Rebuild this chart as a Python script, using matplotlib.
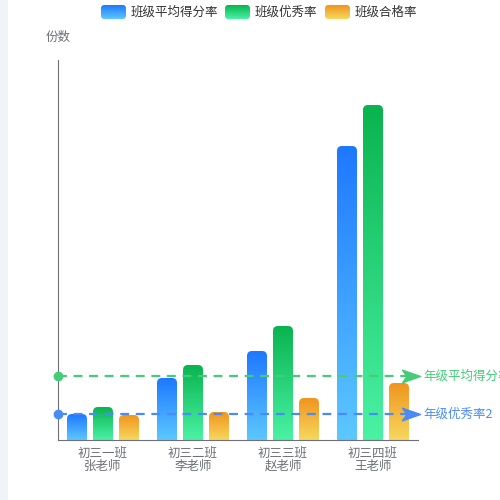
import numpy as np
import matplotlib.pyplot as plt
from matplotlib.patches import FancyBboxPatch, Rectangle
from matplotlib.path import Path
import matplotlib.colors as mcolors

plt.rcParams['font.family'] = ['Noto Sans CJK SC', 'DejaVu Sans']

# data
classes = ['初三一班\n张老师', '初三二班\n李老师', '初三三班\n赵老师', '初三四班\n王老师']
series_names = ['班级平均得分率', '班级优秀率', '班级合格率']
avg_score = [26, 62, 89, 294]
excellent = [33, 75, 114, 335]
passing = [25, 28, 42, 57]
mark_names = ['年级平均得分率', '年级优秀率2']
mark_values = [64, 26]

# gradient colours (top, bottom)
grads = [('#1e78ff', '#5cc8ff'), ('#09b44f', '#4af2a4'), ('#f0951e', '#f7d85e')]
mark_colors = ['#44cc77', '#4a8cf7']
axis_color = '#6e7079'


def grad_image(ax, x0, x1, y0, y1, top, bottom, clip, zorder=2):
    cmap = mcolors.LinearSegmentedColormap.from_list('g', [bottom, top])
    g = np.linspace(0, 1, 256).reshape(-1, 1)
    im = ax.imshow(g, extent=(x0, x1, y0, y1), origin='lower', cmap=cmap,
                   aspect='auto', zorder=zorder, interpolation='bicubic')
    im.set_clip_path(clip)
    return im


fig = plt.figure(figsize=(5, 5), dpi=100)
fig.patches.append(Rectangle((0, 0), 8 / 500, 1, transform=fig.transFigure,
                             facecolor='#f2f3f8', edgecolor='none'))

ax = fig.add_axes([58 / 500, 60 / 500, 360 / 500, 380 / 500])
ax.set_xlim(-0.5, 3.5)
ax.set_ylim(0, 380)

x = np.arange(len(classes))
w = 20 / 90
off = 26 / 90
r = 5 / 90
aspect = 90.0
for i, vals in enumerate([avg_score, excellent, passing]):
    bars = ax.bar(x + (i - 1) * off, vals, w, color='none')
    for b in bars:
        bx, bw, bh = b.get_x(), b.get_width(), b.get_height()
        patch = FancyBboxPatch((bx, -10), bw, bh + 10,
                               boxstyle='round,pad=0,rounding_size=%f' % r,
                               mutation_aspect=aspect, facecolor='none',
                               edgecolor='none')
        ax.add_patch(patch)
        grad_image(ax, bx, bx + bw, 0, bh, grads[i][0], grads[i][1], patch)

# mark lines
arrow = Path([(-1, -0.7), (1, 0), (-1, 0.7), (-0.5, 0), (-1, -0.7)],
             [Path.MOVETO, Path.LINETO, Path.LINETO, Path.LINETO, Path.CLOSEPOLY])
for name, val, c in zip(mark_names, mark_values, mark_colors):
    ax.plot([-0.5, 3.5 - 0.1], [val, val], color=c, lw=1.6, ls=(0, (4, 3)),
            zorder=3, clip_on=False)
    ax.plot([-0.5], [val], 'o', color=c, ms=6, zorder=4, clip_on=False)
    ax.plot([3.5 - 0.08], [val], marker=arrow, color=c, ms=13, mec=c,
            zorder=4, clip_on=False)
    ax.text(3.5 + 5 / 90, val, name, color=c, fontsize=9, va='center',
            ha='left', clip_on=False)

for s in ['top', 'right']:
    ax.spines[s].set_visible(False)
for s in ['left', 'bottom']:
    ax.spines[s].set_color(axis_color)
ax.set_yticks([])
ax.set_xticks(x)
ax.set_xticklabels(classes, color=axis_color, fontsize=9, linespacing=1.0)
ax.tick_params(axis='x', length=0, pad=5)
ax.set_xlim(-0.5, 3.5)
ax.set_ylim(0, 380)

fig.text(58 / 500, 1 - 37 / 500, '份数', ha='center', va='center',
         fontsize=9, color=axis_color)

# legend
lg = fig.add_axes([0, 0, 1, 1], facecolor='none')
lg.set_xlim(0, 500)
lg.set_ylim(500, 0)
lg.axis('off')
leg_x = [101, 225, 325]
for name, (top, bottom), lx in zip(series_names, grads, leg_x):
    p = FancyBboxPatch((lx, 5), 25, 14, boxstyle='round,pad=0,rounding_size=3.5',
                       facecolor='none', edgecolor='none')
    lg.add_patch(p)
    cmap = mcolors.LinearSegmentedColormap.from_list('g', [top, bottom])
    g = np.linspace(0, 1, 64).reshape(-1, 1)
    im = lg.imshow(g, extent=(lx, lx + 25, 19, 5), cmap=cmap, aspect='auto',
                   origin='upper')
    im.set_clip_path(p)
    lg.text(lx + 30, 12, name, va='center', ha='left', fontsize=9, color='#333333')
lg.set_xlim(0, 500)
lg.set_ylim(500, 0)

fig.savefig('out.png', dpi=100)
